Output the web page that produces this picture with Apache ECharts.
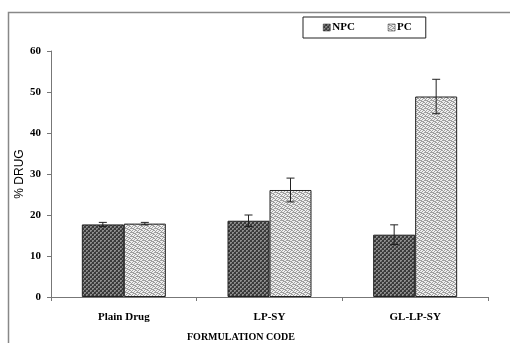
<!DOCTYPE html>
<html>
<head>
<meta charset="utf-8">
<script src="https://cdn.jsdelivr.net/npm/echarts@6/dist/echarts.min.js"></script>
<style>html,body{margin:0;padding:0;background:#fff;}#c{width:510px;height:343px;}</style>
</head>
<body>
<div id="c"></div>
<script>
var categories = ['Plain Drug', 'LP-SY', 'GL-LP-SY'];
var npcValues = [17.7, 18.6, 15.2];
var npcErrors = [0.5, 1.4, 2.4];
var pcValues = [17.9, 26.1, 48.9];
var pcErrors = [0.3, 2.9, 4.2];
var yTicks = [0, 10, 20, 30, 40, 50, 60];
var yTitle = '% DRUG';
var xTitle = 'FORMULATION CODE';

function makePattern(type) {
  var c = document.createElement('canvas');
  var ctx = c.getContext('2d');
  if (type === 'npc') {
    c.width = 4; c.height = 4;
    ctx.fillStyle = '#3a3a3a'; ctx.fillRect(0, 0, 4, 4);
    ctx.fillStyle = '#8c8c8c';
    ctx.fillRect(0, 0, 2, 2); ctx.fillRect(2, 2, 2, 2);
    ctx.fillStyle = '#5a5a5a';
    ctx.fillRect(1, 1, 1, 1); ctx.fillRect(3, 3, 1, 1);
  } else {
    c.width = 6; c.height = 4;
    ctx.fillStyle = '#f0f0f0'; ctx.fillRect(0, 0, 6, 4);
    ctx.fillStyle = '#a0a0a0';
    ctx.fillRect(0, 0, 2, 1); ctx.fillRect(1, 1, 2, 1); ctx.fillRect(3, 1, 1, 1);
    ctx.fillRect(4, 0, 2, 1);
    ctx.fillRect(3, 2, 2, 1); ctx.fillRect(0, 2, 1, 1);
    ctx.fillRect(2, 3, 1, 1); ctx.fillRect(5, 3, 1, 1);
  }
  return c;
}

var npcColor = { image: makePattern('npc'), repeat: 'repeat' };
var pcColor = { image: makePattern('pc'), repeat: 'repeat' };

var BAR_W = 42;

function errData(vals, errs) {
  return vals.map(function (v, i) { return [i, v, errs[i]]; });
}

function errRender(offset) {
  return function (params, api) {
    var i = api.value(0), v = api.value(1), e = api.value(2);
    var hi = api.coord([i, v + e]);
    var lo = api.coord([i, v - e]);
    var x = hi[0] + offset;
    var cap = 4;
    var st = { stroke: '#222', lineWidth: 1 };
    return {
      type: 'group',
      children: [
        { type: 'line', shape: { x1: x, y1: hi[1], x2: x, y2: lo[1] }, style: st },
        { type: 'line', shape: { x1: x - cap, y1: hi[1], x2: x + cap, y2: hi[1] }, style: st },
        { type: 'line', shape: { x1: x - cap, y1: lo[1], x2: x + cap, y2: lo[1] }, style: st }
      ]
    };
  };
}

var chart = echarts.init(document.getElementById('c'), null, { renderer: 'canvas' });
chart.setOption({
  animation: false,
  backgroundColor: '#fff',
  grid: { left: 51, right: 22, top: 51, bottom: 46 },
  legend: {
    data: ['NPC', 'PC'],
    left: 303, top: 17,
    orient: 'horizontal',
    borderColor: '#222', borderWidth: 1,
    padding: [5, 14, 5, 20],
    itemWidth: 7, itemHeight: 7, itemGap: 33,
    icon: 'rect',
    itemStyle: { borderWidth: 0.5 },
    textStyle: { fontFamily: 'Liberation Serif', fontWeight: 'bold', fontSize: 11, color: '#000', padding: [0, 0, 0, -3] }
  },
  xAxis: {
    type: 'category',
    data: categories,
    axisLine: { lineStyle: { color: '#777' } },
    axisTick: { show: true, alignWithLabel: false, length: 4, lineStyle: { color: '#777' } },
    axisLabel: { fontFamily: 'Liberation Serif', fontWeight: 'bold', fontSize: 11, color: '#000', margin: 15 }
  },
  yAxis: {
    type: 'value',
    min: yTicks[0], max: yTicks[yTicks.length - 1], interval: 10,
    axisLine: { show: true, lineStyle: { color: '#777' } },
    axisTick: { show: true, length: 4, lineStyle: { color: '#777' } },
    splitLine: { show: false },
    axisLabel: { fontFamily: 'Liberation Serif', fontWeight: 'bold', fontSize: 11, color: '#000', margin: 10 }
  },
  graphic: [
    { type: 'rect', silent: true, shape: { x: 8.5, y: 12.5, width: 520, height: 360 }, style: { fill: 'none', stroke: '#888', lineWidth: 1.5 }, z: -1 },
    { type: 'text', x: 20, y: 174, rotation: Math.PI / 2,
      style: { text: yTitle, font: '12px "Liberation Sans"', fill: '#000', align: 'center', verticalAlign: 'middle' } },
    { type: 'text', left: 187, top: 332, style: { text: xTitle, font: 'bold 10px "Liberation Serif"', fill: '#000' } }
  ],
  series: [
    { name: 'NPC', type: 'bar', data: npcValues, barWidth: BAR_W, barGap: '0%',
      itemStyle: { color: npcColor, borderColor: '#222', borderWidth: 1 } },
    { name: 'PC', type: 'bar', data: pcValues, barWidth: BAR_W, barGap: '0%',
      itemStyle: { color: pcColor, borderColor: '#222', borderWidth: 1 } },
    { type: 'custom', name: 'npcErr', renderItem: errRender(-BAR_W / 2), data: errData(npcValues, npcErrors), encode: { x: 0, y: 1 }, z: 10 },
    { type: 'custom', name: 'pcErr', renderItem: errRender(BAR_W / 2), data: errData(pcValues, pcErrors), encode: { x: 0, y: 1 }, z: 10 }
  ]
});
</script>
</body>
</html>
